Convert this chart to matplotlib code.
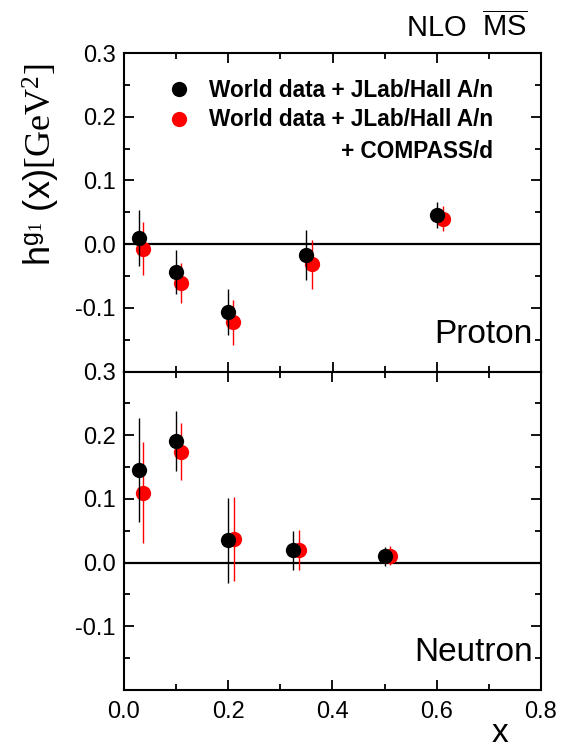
import matplotlib.pyplot as plt
from matplotlib.lines import Line2D
from matplotlib.ticker import MultipleLocator

plt.rcParams['font.family'] = ['Liberation Sans', 'DejaVu Sans']
plt.rcParams['mathtext.fontset'] = 'custom'
plt.rcParams['mathtext.rm'] = 'Liberation Serif'
plt.rcParams['mathtext.it'] = 'Liberation Serif:italic'
plt.rcParams['mathtext.sf'] = 'Liberation Sans'

# proton
p_x_world = [0.028, 0.100, 0.199, 0.349, 0.600]
p_y_world = [0.009, -0.044, -0.107, -0.017, 0.046]
p_e_world = [0.044, 0.035, 0.036, 0.039, 0.020]
p_x_comp = [0.037, 0.109, 0.209, 0.360, 0.612]
p_y_comp = [-0.007, -0.061, -0.123, -0.032, 0.040]
p_e_comp = [0.041, 0.031, 0.035, 0.038, 0.020]

# neutron
n_x_world = [0.028, 0.100, 0.200, 0.325, 0.501]
n_y_world = [0.145, 0.191, 0.035, 0.019, 0.010]
n_e_world = [0.082, 0.047, 0.067, 0.031, 0.015]
n_x_comp = [0.037, 0.109, 0.211, 0.335, 0.511]
n_y_comp = [0.110, 0.174, 0.037, 0.020, 0.011]
n_e_comp = [0.080, 0.045, 0.066, 0.031, 0.015]

lab_world = 'World data + JLab/Hall A/n'
lab_comp2 = '+ COMPASS/d'

fig = plt.figure(figsize=(5.68, 7.5), dpi=100)
W, H = 568, 750
left, right, top, bot = 124, 541, 53, 690
mid = (top + bot) / 2
ax1 = fig.add_axes([left / W, 1 - mid / H, (right - left) / W, (mid - top) / H])
ax2 = fig.add_axes([left / W, 1 - bot / H, (right - left) / W, (bot - mid) / H])


def panel(ax, xw, yw, ew, xc, yc, ec, name):
    ax.axhline(0, color='black', lw=1.6, zorder=1)
    ax.errorbar(xc, yc, yerr=ec, fmt='o', color='red', ms=11, mew=0,
                elinewidth=1.0, capsize=0, zorder=2)
    ax.errorbar(xw, yw, yerr=ew, fmt='o', color='black', ms=11, mew=0,
                elinewidth=1.0, capsize=0, zorder=3)
    ax.set_xlim(0, 0.8)
    ax.set_ylim(-0.2, 0.3)
    ax.xaxis.set_major_locator(MultipleLocator(0.2))
    ax.xaxis.set_minor_locator(MultipleLocator(0.1))
    ax.yaxis.set_major_locator(MultipleLocator(0.1))
    ax.yaxis.set_minor_locator(MultipleLocator(0.05))
    ax.set_yticks([-0.1, 0.0, 0.1, 0.2, 0.3])
    ax.set_yticklabels(['-0.1', '0.0', '0.1', '0.2', '0.3'])
    ax.tick_params(which='both', direction='in', top=True, right=True,
                   width=1.3, labelsize=17)
    ax.tick_params(which='major', length=7)
    ax.tick_params(which='minor', length=4)
    ax.tick_params(axis='y', pad=6)
    ax.tick_params(axis='x', pad=8)
    for s in ax.spines.values():
        s.set_linewidth(1.5)
    ax.text(0.98, 0.09, name, transform=ax.transAxes, ha='right',
            va='baseline', fontsize=24)


panel(ax1, p_x_world, p_y_world, p_e_world, p_x_comp, p_y_comp, p_e_comp, 'Proton')
panel(ax2, n_x_world, n_y_world, n_e_world, n_x_comp, n_y_comp, n_e_comp, 'Neutron')
ax1.tick_params(axis='x', labelbottom=False)
ax2.set_xticks([0.0, 0.2, 0.4, 0.6, 0.8])
ax2.set_xticklabels(['0.0', '0.2', '0.4', '0.6', '0.8'])

handles = [Line2D([], [], ls='none', marker='o', color='black', ms=11, mew=0),
           Line2D([], [], ls='none', marker='o', color='red', ms=11, mew=0)]
leg = ax1.legend(handles, [lab_world, lab_world], loc='upper right',
                 bbox_to_anchor=(0.913, 0.955), frameon=False, borderpad=0,
                 handlelength=1.0, handletextpad=0.85, labelspacing=0.3,
                 prop={'weight': 'bold', 'size': 16.3})
ax1.text(0.885, 0.69, lab_comp2, transform=ax1.transAxes, ha='right',
         va='center', fontsize=16.3, fontweight='bold')

fig.text(0.93, 0.951, r'NLO  $\overline{\mathsf{MS}}$', ha='right',
         va='baseline', fontsize=21)
fig.text(41 / W, 1 - 165 / H, r'h$^{\mathsf{g}_{1}}$ (x)$\mathrm{[GeV^{2}]}$',
         rotation=90, ha='center', va='center', fontsize=26)
fig.text(500 / W, 1 - 742 / H, 'x', ha='center', va='baseline', fontsize=24)

fig.savefig('out.png', dpi=100)
